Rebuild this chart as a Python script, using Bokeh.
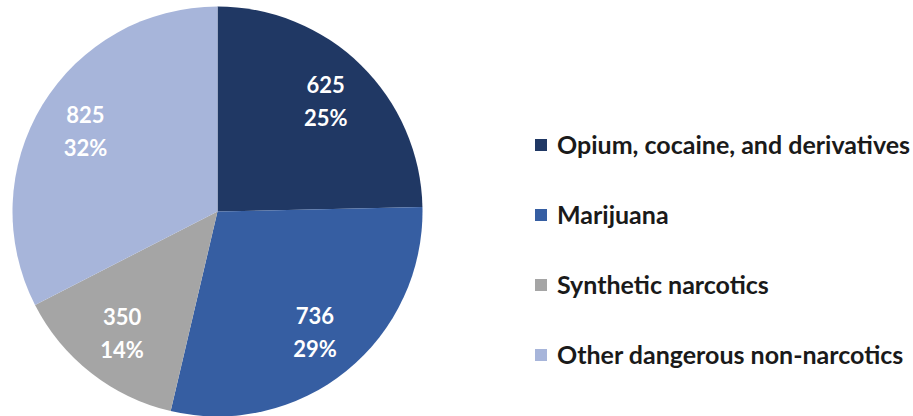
import math
from bokeh.plotting import figure
from bokeh.models import Range1d, Legend, LegendItem, ColumnDataSource
from bokeh.core.properties import value
from bokeh.embed import file_html
from bokeh.resources import INLINE

categories = ["Opium, cocaine, and derivatives", "Marijuana", "Synthetic narcotics", "Other dangerous non-narcotics"]
counts = [625, 736, 350, 825]
pct_labels = ["25%", "29%", "14%", "32%"]
colors = ["#203864", "#365EA2", "#A5A5A5", "#A7B5DA"]

W, H = 913, 416
cx, cy, R = 217, 205, 205

total = sum(counts)
starts, ends, lx, ly = [], [], [], []
acc = 0.0
for v in counts:
    a0 = math.pi / 2 - 2 * math.pi * acc / total
    acc += v
    a1 = math.pi / 2 - 2 * math.pi * acc / total
    starts.append(a0)
    ends.append(a1)
    mid = (a0 + a1) / 2
    lx.append(cx + 0.755 * R * math.cos(mid))
    ly.append(cy + 0.755 * R * math.sin(mid))

src = ColumnDataSource(dict(
    cat=categories, val=[str(c) for c in counts], pct=pct_labels, color=colors,
    start=starts, end=ends, lx=lx, ly=ly,
))

p = figure(width=W, height=H, output_backend="svg", toolbar_location=None,
           x_range=Range1d(0, W), y_range=Range1d(0, H), min_border=0)
p.axis.visible = False
p.grid.visible = False
p.outline_line_color = None
p.background_fill_color = "white"
p.border_fill_color = "white"

r = p.wedge(x=cx, y=cy, radius=R, start_angle="start", end_angle="end",
            direction="clock", fill_color="color", line_color=None, source=src)

for col, off in (("val", -16.5), ("pct", 16.5)):
    p.text(x="lx", y="ly", text=col, source=src, text_align="center", text_baseline="middle",
           y_offset=off, text_color="white", text_font=value("Lato"),
           text_font_style="bold", text_font_size="22px")

legend = Legend(items=[LegendItem(label=c, renderers=[r], index=i) for i, c in enumerate(categories)],
                location=(533, 47), orientation="vertical",
                glyph_width=15, glyph_height=15, label_standoff=9, spacing=40,
                label_height=30, padding=0, margin=0,
                border_line_alpha=0, background_fill_alpha=0,
                label_text_font="Lato", label_text_font_style="bold",
                label_text_font_size="25px", label_text_color="#1a1a1a")
p.add_layout(legend, "center")

open("out.html", "w").write(file_html(p, INLINE))
